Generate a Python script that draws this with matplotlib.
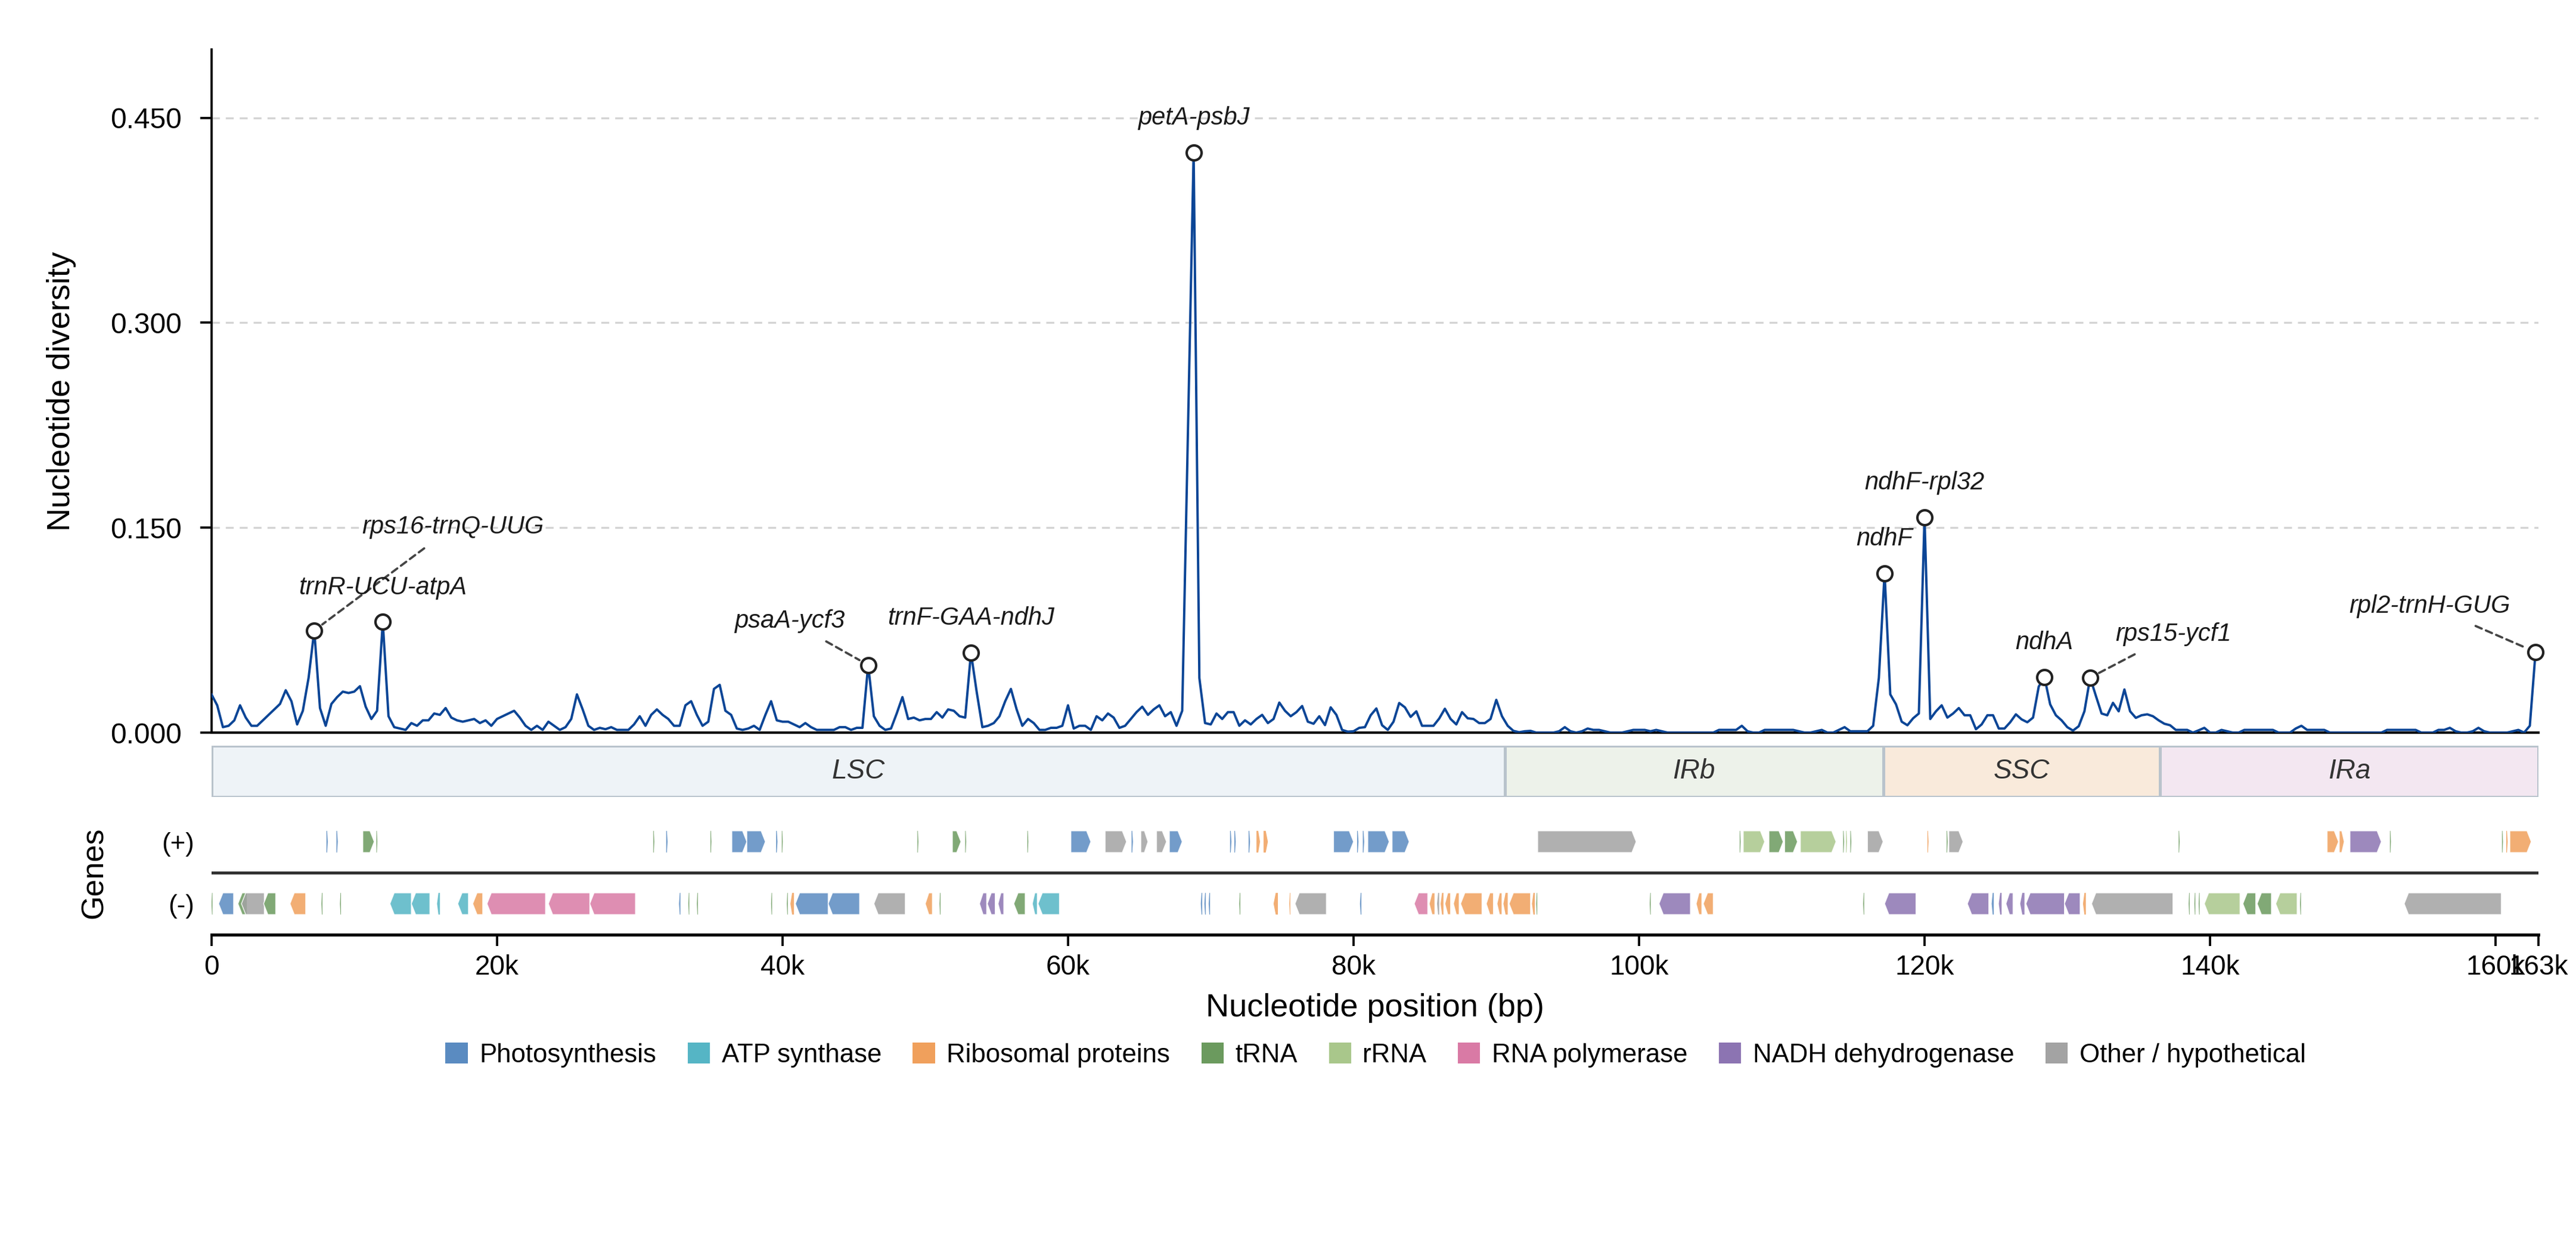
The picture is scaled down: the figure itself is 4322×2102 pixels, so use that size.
import numpy as np
import matplotlib
matplotlib.use("Agg")
import matplotlib.pyplot as plt
import matplotlib.ticker as ticker
from matplotlib.patches import Polygon, Rectangle, Patch

plt.rcParams['font.family'] = ['Liberation Sans', 'DejaVu Sans']

GENOME_LEN = 163000
STEP = 400  # sliding window step (bp)

# nucleotide diversity per window, windows every STEP bp starting at 0
pi = [
    0.028, 0.020, 0.004, 0.005, 0.009, 0.020, 0.011, 0.005, 0.005, 0.009,
    0.013, 0.017, 0.021, 0.031, 0.023, 0.006, 0.016, 0.040, 0.0748, 0.018,
    0.005, 0.021, 0.026, 0.030, 0.029, 0.030, 0.034, 0.019, 0.010, 0.016,
    0.081, 0.012, 0.004, 0.003, 0.002, 0.007, 0.005, 0.009, 0.009, 0.014,
    0.013, 0.018, 0.011, 0.009, 0.008, 0.009, 0.010, 0.007, 0.009, 0.005,
    0.010, 0.012, 0.014, 0.016, 0.011, 0.005, 0.002, 0.005, 0.002, 0.008,
    0.005, 0.002, 0.004, 0.010, 0.028, 0.017, 0.005, 0.002, 0.0035, 0.0025,
    0.004, 0.002, 0.002, 0.002, 0.006, 0.012, 0.005, 0.013, 0.017, 0.013,
    0.010, 0.005, 0.005, 0.020, 0.023, 0.013, 0.005, 0.008, 0.032, 0.035,
    0.016, 0.013, 0.003, 0.002, 0.003, 0.005, 0.002, 0.013, 0.023, 0.009,
    0.008, 0.008, 0.006, 0.004, 0.007, 0.004, 0.002, 0.002, 0.002, 0.002,
    0.004, 0.004, 0.002, 0.0035, 0.0035, 0.0495, 0.012, 0.005, 0.002, 0.003,
    0.014, 0.026, 0.010, 0.011, 0.009, 0.010, 0.010, 0.015, 0.011, 0.017,
    0.016, 0.012, 0.011, 0.0585, 0.030, 0.004, 0.005, 0.007, 0.012, 0.023,
    0.032, 0.017, 0.005, 0.010, 0.007, 0.002, 0.002, 0.0035, 0.0035, 0.005,
    0.020, 0.003, 0.005, 0.005, 0.002, 0.012, 0.009, 0.014, 0.011, 0.0035,
    0.005, 0.010, 0.015, 0.019, 0.013, 0.017, 0.020, 0.012, 0.015, 0.005,
    0.016, 0.220, 0.4247, 0.040, 0.007, 0.006, 0.014, 0.010, 0.015, 0.015,
    0.005, 0.009, 0.006, 0.010, 0.013, 0.007, 0.010, 0.022, 0.016, 0.012,
    0.015, 0.0195, 0.008, 0.0065, 0.012, 0.0055, 0.0185, 0.013, 0.002, 0.0007,
    0.001, 0.0035, 0.004, 0.0127, 0.0177, 0.0054, 0.002, 0.008, 0.0217, 0.0185,
    0.0115, 0.0156, 0.005, 0.005, 0.005, 0.0103, 0.0175, 0.010, 0.006, 0.015,
    0.0105, 0.010, 0.007, 0.007, 0.010, 0.024, 0.012, 0.005, 0.0013, 0.0003,
    0.001, 0.0013, 0.0, 0.0, 0.0, 0.0, 0.001, 0.004, 0.001, 0.0,
    0.001, 0.003, 0.002, 0.002, 0.001, 0.0, 0.0, 0.0, 0.001, 0.002,
    0.002, 0.002, 0.001, 0.002, 0.001, 0.0, 0.0, 0.0, 0.0, 0.0,
    0.0, 0.0, 0.0, 0.0, 0.002, 0.002, 0.002, 0.002, 0.005, 0.001,
    0.0, 0.0, 0.002, 0.002, 0.002, 0.002, 0.002, 0.002, 0.001, 0.0,
    0.0, 0.001, 0.002, 0.0, 0.0, 0.002, 0.004, 0.001, 0.001, 0.001,
    0.001, 0.005, 0.040, 0.1167, 0.028, 0.0207, 0.008, 0.0054, 0.0105, 0.014,
    0.1576, 0.010, 0.0156, 0.020, 0.011, 0.014, 0.018, 0.0127, 0.0127, 0.0025,
    0.006, 0.0127, 0.0127, 0.003, 0.003, 0.0076, 0.0134, 0.0097, 0.0076, 0.011,
    0.0337, 0.0406, 0.0207, 0.0127, 0.009, 0.004, 0.0015, 0.0047, 0.0156, 0.0403,
    0.027, 0.014, 0.0127, 0.0218, 0.0156, 0.0316, 0.0156, 0.0108, 0.0127, 0.0134,
    0.012, 0.009, 0.0065, 0.0054, 0.002, 0.002, 0.002, 0.0, 0.0017, 0.0035,
    0.0, 0.0, 0.002, 0.001, 0.0, 0.0, 0.002, 0.002, 0.002, 0.002,
    0.002, 0.002, 0.0, 0.0, 0.0, 0.003, 0.005, 0.002, 0.002, 0.002,
    0.002, 0.0, 0.0, 0.0, 0.0, 0.0, 0.0, 0.0, 0.0, 0.0,
    0.0, 0.002, 0.002, 0.002, 0.002, 0.002, 0.002, 0.0, 0.0, 0.0,
    0.002, 0.002, 0.0035, 0.001, 0.0, 0.0, 0.001, 0.0035, 0.001, 0.0,
    0.0, 0.0, 0.0, 0.001, 0.002, 0.0, 0.005, 0.059,
]

# hotspot labels and the window they sit on (bp)
peak_labels = ["rps16-trnQ-UUG", "trnR-UCU-atpA", "psaA-ycf3", "trnF-GAA-ndhJ", "petA-psbJ",
               "ndhF", "ndhF-rpl32", "ndhA", "rps15-ycf1", "rpl2-trnH-GUG"]
peak_pos = [7200, 12000, 46000, 53200, 68800, 117200, 120000, 128400, 131600, 162800]
# where the label goes (None = straight above the point)
label_xy = [(16900, 0.1505), None, (40500, 0.0818), None, None,
            None, None, None, (137450, 0.0722), (155400, 0.0926)]

region_names = ["LSC", "IRb", "SSC", "IRa"]
region_bounds = [0, 90600, 117100, 136500, 163000]
region_colors = ["#eef3f7", "#edf2ea", "#f9eadb", "#f3e7f1"]

categories = ["Photosynthesis", "ATP synthase", "Ribosomal proteins", "tRNA", "rRNA",
              "RNA polymerase", "NADH dehydrogenase", "Other / hypothetical"]
cat_keys = ["PS", "ATP", "RIB", "TRNA", "RRNA", "RNAP", "NADH", "OTH"]
cat_colors = ["#5a8bc1", "#55b5c5", "#f0a05c", "#6b9a5e", "#a9c78b", "#d97aa5", "#8c74b2", "#a3a3a3"]

# genes (start kb, end kb, category)
genes_plus = [
    (8.05, 8.15, "PS"), (8.75, 8.85, "PS"), (10.6, 11.4, "TRNA"), (11.55, 11.62, "TRNA"),
    (30.95, 31.02, "TRNA"), (31.85, 31.95, "PS"), (34.95, 35.02, "TRNA"),
    (36.45, 37.5, "PS"), (37.5, 38.8, "PS"), (39.55, 39.65, "PS"), (39.95, 40.02, "TRNA"),
    (49.45, 49.52, "TRNA"), (51.9, 52.5, "TRNA"), (52.8, 52.87, "TRNA"),
    (57.15, 57.22, "TRNA"), (60.2, 61.6, "PS"), (62.6, 64.1, "OTH"), (64.45, 64.55, "PS"),
    (65.1, 65.6, "OTH"), (66.2, 66.9, "OTH"), (67.1, 68.0, "PS"),
    (71.35, 71.45, "PS"), (71.65, 71.75, "PS"), (72.65, 72.75, "PS"), (73.2, 73.45, "RIB"), (73.7, 74.0, "RIB"),
    (78.6, 80.0, "PS"), (80.25, 80.35, "PS"), (80.65, 80.75, "PS"), (81.0, 82.5, "PS"), (82.7, 83.9, "PS"),
    (92.9, 99.8, "OTH"),
    (107.05, 107.12, "TRNA"), (107.3, 108.8, "RRNA"), (109.1, 110.1, "TRNA"), (110.2, 111.1, "TRNA"),
    (111.3, 113.8, "RRNA"), (114.3, 114.37, "TRNA"), (114.5, 114.57, "RRNA"), (114.8, 114.87, "TRNA"),
    (116.0, 117.1, "OTH"),
    (120.2, 120.28, "RIB"), (121.55, 121.62, "TRNA"), (121.7, 122.7, "OTH"),
    (137.8, 137.87, "TRNA"),
    (148.2, 149.0, "RIB"), (149.05, 149.4, "RIB"), (149.8, 152.0, "NADH"), (152.6, 152.67, "TRNA"),
    (160.45, 160.52, "TRNA"), (160.75, 160.85, "RIB"), (161.0, 162.5, "RIB"),
]
genes_minus = [
    (0.0, 0.07, "TRNA"), (0.5, 1.55, "PS"), (1.85, 2.5, "TRNA"), (2.1, 3.7, "OTH"), (3.65, 4.5, "TRNA"),
    (5.5, 6.6, "RIB"), (7.7, 7.77, "TRNA"), (9.0, 9.07, "TRNA"),
    (12.5, 14.0, "ATP"), (14.0, 15.3, "ATP"), (15.8, 16.0, "ATP"), (17.25, 18.0, "ATP"), (18.3, 19.0, "RIB"),
    (19.3, 23.4, "RNAP"), (23.6, 26.5, "RNAP"), (26.5, 29.7, "RNAP"),
    (32.75, 32.85, "PS"), (33.4, 33.47, "TRNA"), (34.0, 34.07, "TRNA"),
    (39.2, 39.27, "TRNA"), (40.3, 40.37, "TRNA"), (40.55, 40.8, "RIB"), (40.9, 43.2, "PS"), (43.2, 45.4, "PS"),
    (46.4, 48.6, "OTH"), (50.0, 50.5, "RIB"), (51.0, 51.07, "TRNA"),
    (53.8, 54.3, "NADH"), (54.35, 54.9, "NADH"), (55.1, 55.5, "NADH"), (56.2, 57.0, "TRNA"),
    (57.5, 57.85, "ATP"), (57.9, 59.4, "ATP"),
    (69.3, 69.4, "PS"), (69.55, 69.65, "PS"), (69.85, 69.95, "PS"), (72.0, 72.07, "TRNA"),
    (74.4, 74.7, "RIB"), (75.5, 75.57, "RIB"), (75.9, 78.1, "OTH"), (80.45, 80.55, "PS"),
    (84.25, 85.2, "RNAP"), (85.3, 85.7, "RIB"), (85.85, 86.0, "OTH"), (86.1, 86.3, "RIB"), (86.4, 86.8, "RIB"),
    (87.0, 87.4, "RIB"), (87.5, 89.0, "RIB"), (89.3, 89.8, "RIB"), (90.05, 90.4, "RIB"), (90.5, 90.8, "RIB"),
    (90.9, 92.4, "RIB"), (92.5, 92.7, "RIB"), (92.8, 92.87, "TRNA"),
    (100.75, 100.82, "TRNA"), (101.4, 103.6, "NADH"), (104.0, 104.4, "RIB"), (104.5, 105.2, "RIB"),
    (115.7, 115.77, "TRNA"), (117.2, 119.4, "NADH"),
    (123.0, 124.5, "NADH"), (124.7, 124.85, "PS"), (125.2, 125.4, "NADH"), (125.7, 126.2, "NADH"),
    (126.7, 127.0, "NADH"), (127.1, 129.8, "NADH"), (129.8, 130.9, "NADH"), (131.1, 131.3, "RIB"),
    (131.7, 137.4, "OTH"),
    (138.5, 138.57, "TRNA"), (138.9, 138.97, "TRNA"), (139.2, 139.27, "TRNA"), (139.6, 142.1, "RRNA"),
    (142.3, 143.2, "TRNA"), (143.3, 144.3, "TRNA"), (144.6, 146.1, "RRNA"), (146.3, 146.37, "TRNA"),
    (153.6, 160.4, "OTH"),
]

color_of = dict(zip(cat_keys, cat_colors))
pos = np.arange(len(pi)) * STEP
pi = np.array(pi)

fig = plt.figure(figsize=(4322 / 300, 2102 / 300), dpi=300)
L, W = 0.0821, 0.9033
ax = fig.add_axes([L, 0.4153, W, 0.5452])
ax_reg = fig.add_axes([L, 0.3639, W, 0.0409], sharex=ax)
ax_gene = fig.add_axes([L, 0.2540, W, 0.0990], sharex=ax)

# --- diversity curve
ax.plot(pos, pi, color="#0b4596", lw=0.95, zorder=3)
ax.set_xlim(0, GENOME_LEN)
ax.set_ylim(0, 0.5)
ax.set_yticks([0, 0.15, 0.30, 0.45])
ax.yaxis.set_major_formatter(ticker.FormatStrFormatter('%.3f'))
ax.tick_params(axis='y', labelsize=11.5, length=4.5, width=0.9, pad=7.5)
ax.tick_params(axis='x', bottom=False, labelbottom=False)
for y in [0.15, 0.30, 0.45]:
    ax.axhline(y, color="#d4d4d4", lw=0.8, ls=(0, (4, 3)), zorder=1)
for s in ["top", "right"]:
    ax.spines[s].set_visible(False)
ax.spines["left"].set_linewidth(0.9)
ax.spines["bottom"].set_linewidth(1.0)
ax.set_ylabel("Nucleotide diversity", fontsize=13)
ax.yaxis.set_label_coords(-0.058, 0.5)

for name, p, lxy in zip(peak_labels, peak_pos, label_xy):
    i = int(round(p / STEP))
    px, py = pos[i], pi[i]
    ax.plot(px, py, 'o', ms=6, mfc="white", mec="#222222", mew=1.0, zorder=5, clip_on=False)
    if lxy is None:
        ax.annotate(name, (px, py), xytext=(0, 9), textcoords="offset points",
                    ha="center", va="bottom", fontsize=10, style="italic", color="#1a1a1a")
    else:
        ax.annotate(name, (px, py), xytext=lxy, textcoords="data",
                    ha="center", va="center", fontsize=10, style="italic", color="#1a1a1a",
                    arrowprops=dict(arrowstyle="-", ls=(0, (3, 2)), color="#444444", lw=0.9,
                                    shrinkA=3, shrinkB=4))

# --- region bar
ax_reg.set_ylim(0, 1)
ax_reg.axis("off")
for name, a, b, c in zip(region_names, region_bounds[:-1], region_bounds[1:], region_colors):
    ax_reg.add_patch(Rectangle((a, 0), b - a, 1, facecolor=c, edgecolor="#b9c3cc", lw=1.2))
    ax_reg.text((a + b) / 2, 0.5, name, ha="center", va="center", fontsize=11,
                style="italic", color="#333333")

# --- gene track
def draw_gene(axis, start, end, strand, color):
    start, end = start * 1000, end * 1000
    y = 0.5 if strand > 0 else -0.5
    h = 0.175
    head = min(300, 0.5 * (end - start))
    if strand > 0:
        pts = [(start, y - h), (end - head, y - h), (end, y), (end - head, y + h), (start, y + h)]
    else:
        pts = [(end, y - h), (start + head, y - h), (start, y), (start + head, y + h), (end, y + h)]
    lw = 0.35 if end - start > 300 else 0
    axis.add_patch(Polygon(pts, closed=True, facecolor=color, edgecolor="white", lw=lw, alpha=0.85))

for s, e, c in genes_plus:
    draw_gene(ax_gene, s, e, +1, color_of[c])
for s, e, c in genes_minus:
    draw_gene(ax_gene, s, e, -1, color_of[c])

ax_gene.set_ylim(-1, 1)
ax_gene.axhline(0, color="#333333", lw=1.2)
ax_gene.set_yticks([0.5, -0.5])
ax_gene.set_yticklabels(["(+)", "(-)"], fontsize=10.5)
ax_gene.tick_params(axis='y', length=0, pad=7)
for s in ["top", "right", "left"]:
    ax_gene.spines[s].set_visible(False)
ax_gene.spines["bottom"].set_linewidth(1.2)
ax_gene.set_ylabel("Genes", fontsize=12.5)
ax_gene.yaxis.set_label_coords(-0.044, 0.5)

ax_gene.set_xticks(list(range(0, 160001, 20000)) + [GENOME_LEN])
ax_gene.xaxis.set_major_formatter(
    ticker.FuncFormatter(lambda v, _: "0" if v == 0 else f"{v / 1000:.0f}k"))
ax_gene.tick_params(axis='x', labelsize=11, length=4.5, width=0.9, labelbottom=True)
ax_gene.set_xlabel("Nucleotide position (bp)", fontsize=13)
ax_gene.xaxis.set_label_coords(0.5, -0.47)
ax_gene.set_xlim(0, GENOME_LEN)

handles = [Patch(facecolor=c, edgecolor="none") for c in cat_colors]
fig.legend(handles, categories, loc="center", bbox_to_anchor=(0.534, 0.158), ncol=8,
           frameon=False, fontsize=10.5, handlelength=0.85, handleheight=0.85,
           handletextpad=0.45, columnspacing=1.2)

fig.savefig("out.png", dpi=300)
